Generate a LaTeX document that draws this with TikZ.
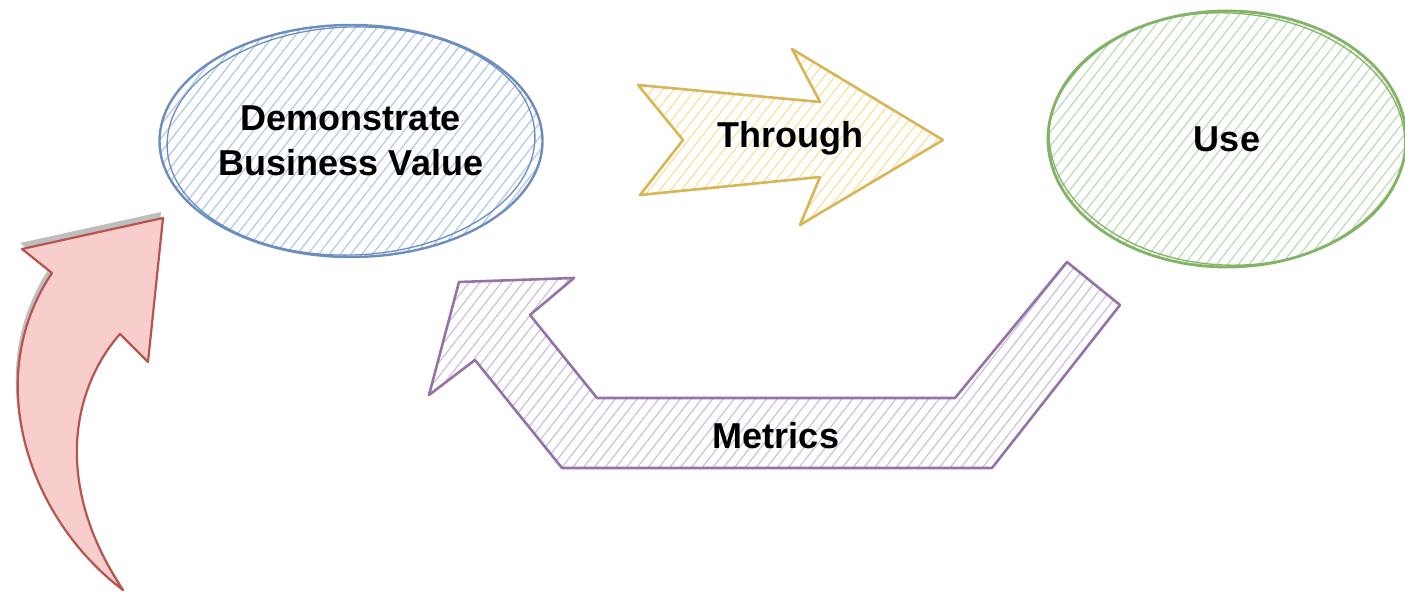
\documentclass[tikz,border=0pt]{standalone}
\usepackage{fontspec}
\setmainfont{Liberation Sans}
\usetikzlibrary{shapes.geometric,patterns.meta}
\definecolor{niceblue}{RGB}{108,142,191}
\definecolor{niceblueL}{RGB}{176,199,233}
\definecolor{nicegreen}{RGB}{130,179,102}
\definecolor{nicegreenL}{RGB}{186,218,181}
\definecolor{niceyellow}{RGB}{214,182,86}
\definecolor{niceyellowL}{RGB}{248,224,156}
\definecolor{nicepurple}{RGB}{150,115,166}
\definecolor{nicepurpleL}{RGB}{206,190,220}
\definecolor{nicered}{RGB}{184,84,80}
\definecolor{niceredL}{RGB}{248,206,204}
\definecolor{lgray}{RGB}{190,190,190}

\begin{document}
\begin{tikzpicture}[x=1pt, y=-1pt, line join=round,
		bigtext/.style={font=\fontsize{36}{45}\selectfont\bfseries, align=center},
		hatch/.style={pattern={Lines[angle=52,distance=8.5pt,line width=1.2pt]}, pattern color=#1}]
			\useasboundingbox (0,0) rectangle (1405,593);
			% ellipses
			\node (dbv) at (351,141) [ellipse, draw=niceblue, line width=2.4pt, minimum width=372pt, minimum height=232pt, hatch=niceblueL, bigtext] {Demonstrate\\Business Value};
			\node (use) at (1227,139) [ellipse, draw=nicegreen, line width=2.8pt, minimum width=358pt, minimum height=256pt, hatch=nicegreenL, bigtext] {Use};
			\draw[niceblue, line width=1.3pt, rotate around={2:(dbv.center)}] (dbv.center) ellipse [x radius=184pt, y radius=114pt];
			\draw[nicegreen, line width=1.3pt, rotate around={-3:(use.center)}] (use.center) ellipse [x radius=178pt, y radius=126pt];
			% through
			\draw[niceyellow, line width=2.6pt, hatch=niceyellowL] (638,85) -- (820,102) -- (792,49) -- (943,140) -- (800,225) -- (820,177) -- (640,195) -- (683,140) -- cycle;
			\node (thr) at (790,138) [bigtext] {Through};
			% metrics
			\draw[nicepurple, line width=2.6pt, hatch=nicepurpleL] (1067,262) -- (1120,305) -- (992,468) -- (562,468) -- (475,360) -- (429,395) -- (459,282) -- (574,278) -- (530,315) -- (597,398) -- (955,398) -- cycle;
			\node (met) at (776,436) [bigtext] {Metrics};
			% red curved arrow
			\fill[lgray, shift={(-2,-6)}] (163,218) -- (148,362) -- (120,334) .. controls (75,385) and (50,480) .. (123,590) .. controls (30,520) and (-20,380) .. (52,273) -- (22,249) -- cycle;
			\filldraw[draw=nicered, fill=niceredL, line width=2.2pt] (163,218) -- (148,362) -- (120,334) .. controls (75,385) and (50,480) .. (123,590) .. controls (30,520) and (-20,380) .. (52,273) -- (22,249) -- cycle;
\end{tikzpicture}
\end{document}
